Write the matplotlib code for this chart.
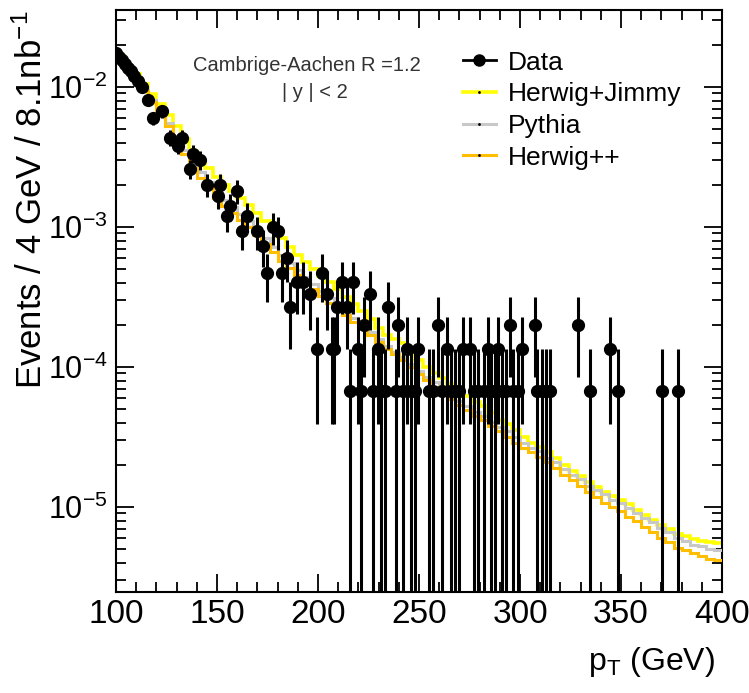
import numpy as np
import matplotlib.pyplot as plt
from matplotlib.lines import Line2D
from matplotlib.ticker import LogLocator, MultipleLocator, NullFormatter

plt.rcParams['font.family'] = ['Liberation Sans', 'DejaVu Sans']
plt.rcParams['mathtext.fontset'] = 'custom'
plt.rcParams['mathtext.rm'] = 'Liberation Sans'
plt.rcParams['mathtext.it'] = 'Liberation Sans:italic'

# weight of one event (Events / 4 GeV / 8.1 nb^-1)
event_weight = 6.7e-5

# MC histograms, 4 GeV bins from 100 to 400, values in log10
bin_edges = np.arange(100, 404, 4)
herwig_jimmy_log = [
    -1.78, -1.85, -1.91, -1.98, -2.05, -2.12, -2.20, -2.28, -2.37, -2.46,
    -2.52, -2.58, -2.64, -2.70, -2.74, -2.79, -2.84, -2.90, -2.96, -3.02,
    -3.08, -3.14, -3.20, -3.25, -3.30, -3.35, -3.39, -3.44, -3.50, -3.55,
    -3.60, -3.66, -3.72, -3.77, -3.80, -3.83, -3.89, -3.95, -4.00, -4.04,
    -4.08, -4.12, -4.17, -4.21, -4.25, -4.28, -4.33, -4.38, -4.41, -4.45,
    -4.50, -4.54, -4.57, -4.61, -4.65, -4.70, -4.74, -4.78, -4.82, -4.86,
    -4.89, -4.92, -4.95, -4.98, -5.02, -5.06, -5.09, -5.13, -5.16, -5.19,
    -5.21, -5.23, -5.24, -5.25, -5.26]
pythia_log = [
    -1.79, -1.87, -1.94, -2.02, -2.09, -2.17, -2.26, -2.35, -2.45, -2.54,
    -2.61, -2.68, -2.75, -2.81, -2.86, -2.91, -2.96, -3.02, -3.08, -3.14,
    -3.20, -3.26, -3.31, -3.36, -3.41, -3.46, -3.51, -3.55, -3.60, -3.65,
    -3.70, -3.75, -3.80, -3.85, -3.89, -3.93, -3.98, -4.03, -4.07, -4.11,
    -4.15, -4.19, -4.24, -4.28, -4.32, -4.35, -4.39, -4.43, -4.46, -4.50,
    -4.54, -4.58, -4.60, -4.65, -4.68, -4.73, -4.77, -4.80, -4.85, -4.88,
    -4.91, -4.95, -4.97, -5.01, -5.04, -5.08, -5.11, -5.15, -5.18, -5.22,
    -5.24, -5.27, -5.28, -5.30, -5.31]
herwigpp_log = [
    -1.80, -1.88, -1.95, -2.03, -2.11, -2.19, -2.28, -2.38, -2.48, -2.58,
    -2.65, -2.72, -2.79, -2.85, -2.90, -2.95, -3.00, -3.06, -3.12, -3.18,
    -3.24, -3.29, -3.34, -3.39, -3.44, -3.49, -3.54, -3.58, -3.63, -3.68,
    -3.72, -3.77, -3.82, -3.87, -3.91, -3.95, -4.00, -4.05, -4.09, -4.14,
    -4.18, -4.23, -4.27, -4.31, -4.35, -4.38, -4.42, -4.46, -4.50, -4.54,
    -4.58, -4.61, -4.64, -4.68, -4.72, -4.77, -4.81, -4.85, -4.89, -4.93,
    -4.97, -5.00, -5.03, -5.07, -5.10, -5.14, -5.18, -5.22, -5.25, -5.29,
    -5.31, -5.33, -5.35, -5.37, -5.38]

# data: point position (GeV) and number of events
data_pt = [100, 101.5, 103, 104.5, 106, 107.5, 109, 111, 113, 115.8,
           118.3, 122.8, 126.7, 130.7, 132.7, 136.6, 138, 141.6, 145, 150.5,
           151.5, 155, 156.4, 160, 162.4, 164.9, 169.8, 172.8, 174.8, 177.7,
           180.2, 182.2, 184.7, 186.1, 189.6, 192.6, 196, 199.3, 202, 204.5,
           206.8, 208, 209.5, 211.9, 214.4, 215.8, 217.4, 220, 221.5, 222.8,
           225.7, 227, 229.9, 231, 233, 234.8, 238.5, 239.8, 242, 243.9,
           246, 248, 249.7, 255, 257, 259.6, 261.5, 263.7, 266, 268,
           270, 272, 275.2, 277, 279, 282, 284.3, 285.5, 287.5, 289.2,
           291, 293, 295, 296.5, 299, 300.8, 307.4, 308.5, 311, 313,
           315, 328.9, 334.7, 344.6, 348.7, 370.1, 378.3]
data_n = [260, 245, 232, 218, 205, 195, 180, 165, 150, 120,
          90, 100, 65, 57, 65, 39, 50, 45, 30, 25,
          30, 18, 21, 27, 14, 18, 14, 11, 7, 15,
          14, 7, 9, 4, 6, 6, 5, 2, 7, 5,
          2, 2, 4, 6, 4, 1, 6, 2, 1, 3,
          5, 1, 2, 1, 1, 4, 1, 3, 1, 2,
          1, 1, 2, 1, 1, 3, 1, 2, 1, 1,
          1, 2, 2, 1, 1, 1, 2, 1, 1, 2,
          1, 1, 3, 1, 1, 2, 3, 1, 1, 1,
          1, 3, 1, 2, 1, 1, 1]

fig = plt.figure(figsize=(7.49, 6.93), dpi=100)
ax = fig.add_axes([0.1549, 0.1457, 0.8091, 0.8399])

ax.stairs(10 ** np.array(herwig_jimmy_log), bin_edges, baseline=None,
          color='#ffff00', lw=2.6, zorder=2)
ax.stairs(10 ** np.array(pythia_log), bin_edges, baseline=None,
          color='#c8c8c8', lw=2.2, zorder=3)
ax.stairs(10 ** np.array(herwigpp_log), bin_edges, baseline=None,
          color='#ffbf00', lw=2.2, zorder=4)

n = np.array(data_n, dtype=float)
y = n * event_weight
err = np.sqrt(n) * event_weight
lower = np.minimum(err, y - 1e-9)
ax.errorbar(data_pt, y, yerr=[lower, err], fmt='o', color='black', ms=8.5,
            elinewidth=2.2, capsize=0, zorder=5)

ax.set_yscale('log')
ax.set_xlim(100, 400)
ax.set_ylim(2.47e-6, 3.55e-2)

ax.xaxis.set_major_locator(MultipleLocator(50))
ax.xaxis.set_minor_locator(MultipleLocator(10))
ax.yaxis.set_major_locator(LogLocator(base=10, numticks=10))
ax.yaxis.set_minor_locator(LogLocator(base=10, subs=np.arange(2, 10), numticks=10))
ax.yaxis.set_minor_formatter(NullFormatter())
ax.tick_params(which='both', direction='in', top=True, right=True, width=1.3, colors='black')
ax.tick_params(which='major', length=13)
ax.tick_params(which='minor', length=7)
ax.tick_params(axis='x', labelsize=24, pad=5)
ax.tick_params(axis='y', labelsize=22, pad=6)
for s in ax.spines.values():
    s.set_linewidth(1.5)

ax.set_ylabel(r'Events / 4 GeV / 8.1nb$^{-1}$', fontsize=25, loc='top')
ax.yaxis.set_label_coords(-0.111, 1.0)
ax.set_xlabel(r'p$_{\mathrm{T}}$ (GeV)', fontsize=23, loc='right')
ax.xaxis.set_label_coords(0.988, -0.091)
ax.xaxis.label.set_va('top')

ax.text(0.315, 0.904, 'Cambrige-Aachen R =1.2', transform=ax.transAxes, fontsize=14.5,
        color='#333333', ha='center', va='center')
ax.text(0.328, 0.859, '| y | < 2', transform=ax.transAxes, fontsize=14.5,
        color='#333333', ha='center', va='center')

handles = [
    Line2D([], [], color='black', lw=2, marker='o', ms=8),
    Line2D([], [], color='#ffff00', lw=2.6, marker='.', ms=2, mfc='black', mec='black'),
    Line2D([], [], color='#c8c8c8', lw=2.2, marker='.', ms=2, mfc='black', mec='black'),
    Line2D([], [], color='#ffbf00', lw=2.2, marker='.', ms=2, mfc='black', mec='black'),
]
ax.legend(handles, ['Data', 'Herwig+Jimmy', 'Pythia', 'Herwig++'], loc='upper left',
          bbox_to_anchor=(0.533, 0.971), frameon=False, fontsize=19, handlelength=1.25,
          handletextpad=0.45, labelspacing=0.29)

fig.savefig('out.png', dpi=100)
